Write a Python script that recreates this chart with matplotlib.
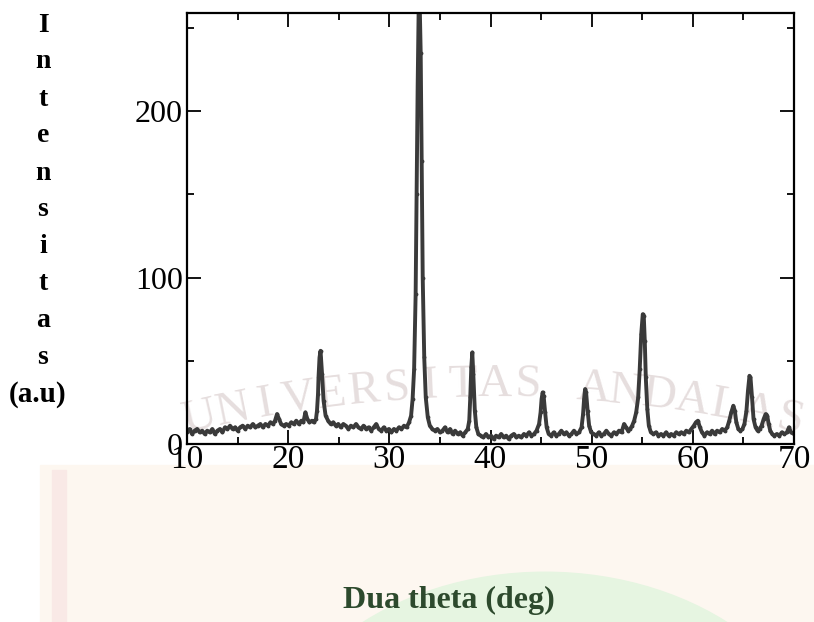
import numpy as np
import matplotlib.pyplot as plt
from matplotlib.patches import Circle, Rectangle

# XRD pattern (2theta in deg, intensity in a.u.)
two_theta = [
    10.0, 10.25, 10.5, 10.75, 11.0, 11.25, 11.5, 11.75, 12.0, 12.25, 12.5, 12.75,
    13.0, 13.25, 13.5, 13.75, 14.0, 14.25, 14.5, 14.75, 15.0, 15.25, 15.5, 15.75,
    16.0, 16.25, 16.5, 16.75, 17.0, 17.25, 17.5, 17.75, 18.0, 18.25, 18.5, 18.7,
    18.9, 19.1, 19.3, 19.55, 19.8, 20.05, 20.3, 20.55, 20.8, 21.05, 21.3, 21.5,
    21.7, 21.9, 22.1, 22.35, 22.55, 22.75, 22.85, 22.95, 23.0, 23.1, 23.2, 23.35,
    23.5, 23.7, 23.95, 24.2, 24.45, 24.7, 24.95, 25.2, 25.45, 25.7, 25.95, 26.2,
    26.45, 26.7, 26.95, 27.2, 27.45, 27.7, 27.95, 28.2, 28.45, 28.7, 28.95, 29.2,
    29.45, 29.7, 29.95, 30.2, 30.45, 30.7, 30.95, 31.2, 31.45, 31.7, 31.95, 32.15,
    32.3, 32.45, 32.6, 32.7, 32.8, 32.9, 33.0, 33.1, 33.2, 33.3, 33.45, 33.6,
    33.8, 34.0, 34.25, 34.5, 34.75, 35.0, 35.25, 35.5, 35.75, 36.0, 36.25, 36.5,
    36.75, 37.0, 37.25, 37.5, 37.75, 37.9, 38.0, 38.1, 38.2, 38.3, 38.45, 38.6,
    38.8, 39.05, 39.3, 39.55, 39.8, 40.05, 40.3, 40.55, 40.8, 41.05, 41.3, 41.55,
    41.8, 42.05, 42.3, 42.55, 42.8, 43.05, 43.3, 43.55, 43.8, 44.05, 44.3, 44.55,
    44.8, 44.95, 45.05, 45.15, 45.25, 45.4, 45.55, 45.75, 46.0, 46.25, 46.5, 46.75,
    47.0, 47.25, 47.5, 47.75, 48.0, 48.25, 48.5, 48.75, 49.0, 49.15, 49.25, 49.35,
    49.45, 49.6, 49.75, 49.95, 50.2, 50.45, 50.7, 50.95, 51.2, 51.45, 51.7, 51.95,
    52.2, 52.45, 52.7, 52.95, 53.2, 53.4, 53.6, 53.8, 54.0, 54.2, 54.4, 54.6,
    54.75, 54.9, 55.05, 55.15, 55.25, 55.35, 55.5, 55.65, 55.85, 56.1, 56.35, 56.6,
    56.85, 57.1, 57.35, 57.6, 57.85, 58.1, 58.35, 58.6, 58.85, 59.1, 59.35, 59.6,
    59.85, 60.1, 60.3, 60.5, 60.7, 60.9, 61.15, 61.4, 61.65, 61.9, 62.15, 62.4,
    62.65, 62.9, 63.15, 63.4, 63.6, 63.8, 64.0, 64.15, 64.3, 64.5, 64.7, 64.9,
    65.1, 65.3, 65.45, 65.6, 65.7, 65.85, 66.0, 66.2, 66.4, 66.6, 66.8, 67.0,
    67.2, 67.35, 67.5, 67.65, 67.85, 68.05, 68.3, 68.55, 68.8, 69.05, 69.3, 69.5,
    69.7, 70.0,
]
intensity = [
    7, 9, 6, 8, 9, 7, 8, 6, 8, 7, 9, 6,
    8, 9, 7, 10, 9, 11, 9, 10, 8, 10, 11, 9,
    11, 10, 12, 10, 11, 12, 10, 12, 11, 13, 12, 14,
    18, 15, 12, 11, 12, 11, 13, 12, 14, 12, 14, 13,
    19, 15, 13, 14, 13, 15, 20, 30, 40, 52, 56, 42,
    26, 17, 14, 12, 13, 11, 12, 10, 12, 11, 9, 11,
    10, 12, 10, 9, 11, 9, 10, 8, 10, 12, 9, 8,
    10, 8, 9, 7, 9, 8, 10, 9, 11, 10, 13, 17,
    27, 45, 90, 150, 215, 262, 265, 235, 170, 100, 52, 28,
    16, 11, 9, 8, 9, 7, 8, 10, 7, 9, 6, 8,
    6, 7, 5, 7, 9, 14, 28, 46, 55, 42, 20, 10,
    6, 5, 4, 6, 4, 5, 3, 5, 4, 6, 4, 5,
    3, 5, 6, 4, 5, 4, 6, 5, 7, 5, 6, 8,
    12, 19, 27, 31, 29, 19, 10, 6, 5, 7, 5, 6,
    8, 6, 7, 5, 6, 8, 6, 7, 10, 18, 27, 33,
    31, 20, 11, 7, 6, 5, 7, 5, 6, 8, 6, 5,
    7, 6, 8, 7, 12, 10, 8, 9, 11, 14, 19, 28,
    45, 66, 78, 77, 62, 40, 21, 11, 7, 6, 7, 5,
    6, 5, 7, 5, 6, 5, 7, 6, 7, 6, 8, 7,
    9, 11, 13, 14, 10, 7, 5, 7, 6, 8, 6, 8,
    7, 9, 8, 10, 14, 19, 23, 20, 13, 9, 8, 9,
    12, 20, 32, 41, 40, 28, 15, 10, 8, 9, 11, 15,
    18, 17, 12, 8, 6, 5, 6, 5, 7, 6, 7, 10,
    7, 6,
]

x_ticks = [10, 20, 30, 40, 50, 60, 70]
y_ticks = [0, 100, 200]
y_letters = ['I', 'n', 't', 'e', 'n', 's', 'i', 't', 'a', 's']

plt.rcParams['font.family'] = ['Liberation Serif', 'DejaVu Serif']

fig = plt.figure(figsize=(8.14, 6.22), dpi=100)
W, H = 814.0, 622.0

# faint university watermark behind the chart
fig.patches.append(Rectangle((40 / W, 0), 774 / W, (622 - 465) / H,
                             transform=fig.transFigure, color='#fdf7f0',
                             zorder=-3))
fig.patches.append(Rectangle((52 / W, 0), 14 / W, (622 - 470) / H,
                             transform=fig.transFigure, color='#f9e9e6',
                             zorder=-2))
fig.patches.append(Circle((545 / W, -168 / H), 285 / W,
                          transform=fig.transFigure, color='#e6f5e1',
                          zorder=-2))
word = 'UNIVERSITAS ANDALAS'
R = 1300.0
cx, cy = 490.0, 385.0 + R
for i, ch in enumerate(word):
    px = 200 + i * (590 / (len(word) - 1))
    ang = np.arcsin((px - cx) / R)
    py = cy - R * np.cos(ang)
    fig.text(px / W, 1 - py / H, ch, fontsize=34, color='#e6dede',
             ha='center', va='center', rotation=-np.degrees(ang), zorder=-1)

ax = fig.add_axes([187 / W, 1 - 444 / H, 607 / W, 431 / H])
ax.patch.set_alpha(0)

ax.plot(two_theta, intensity, color='#3a3a3a', lw=2.8, marker='.',
        markersize=3.5, clip_on=True)

ax.set_xlim(10, 70)
ax.set_ylim(0, 259)
ax.set_xticks(x_ticks)
ax.set_xticks(np.arange(15, 70, 10), minor=True)
ax.set_yticks(y_ticks)
ax.set_yticks([50, 150, 250], minor=True)
ax.tick_params(which='both', direction='in', top=True, right=True,
               width=1.3, color='black')
ax.tick_params(which='major', length=10)
ax.tick_params(which='minor', length=5)
ax.tick_params(axis='x', labelsize=24, pad=0)
ax.tick_params(axis='y', labelsize=23, pad=3)
for sp in ax.spines.values():
    sp.set_linewidth(1.6)

# stacked vertical y label
for i, ch in enumerate(y_letters):
    fig.text(43 / W, 1 - (25 + i * 37) / H, ch, fontsize=20,
             fontweight='bold', ha='center', va='center')
fig.text(38 / W, 1 - 395 / H, '(a.u)', fontsize=21, fontweight='bold',
         ha='center', va='center')

fig.text(449 / W, 1 - 600 / H, 'Dua theta (deg)', fontsize=23,
         fontweight='bold', color='#2d4a2d', ha='center', va='center')

fig.savefig('out.png', dpi=100)
